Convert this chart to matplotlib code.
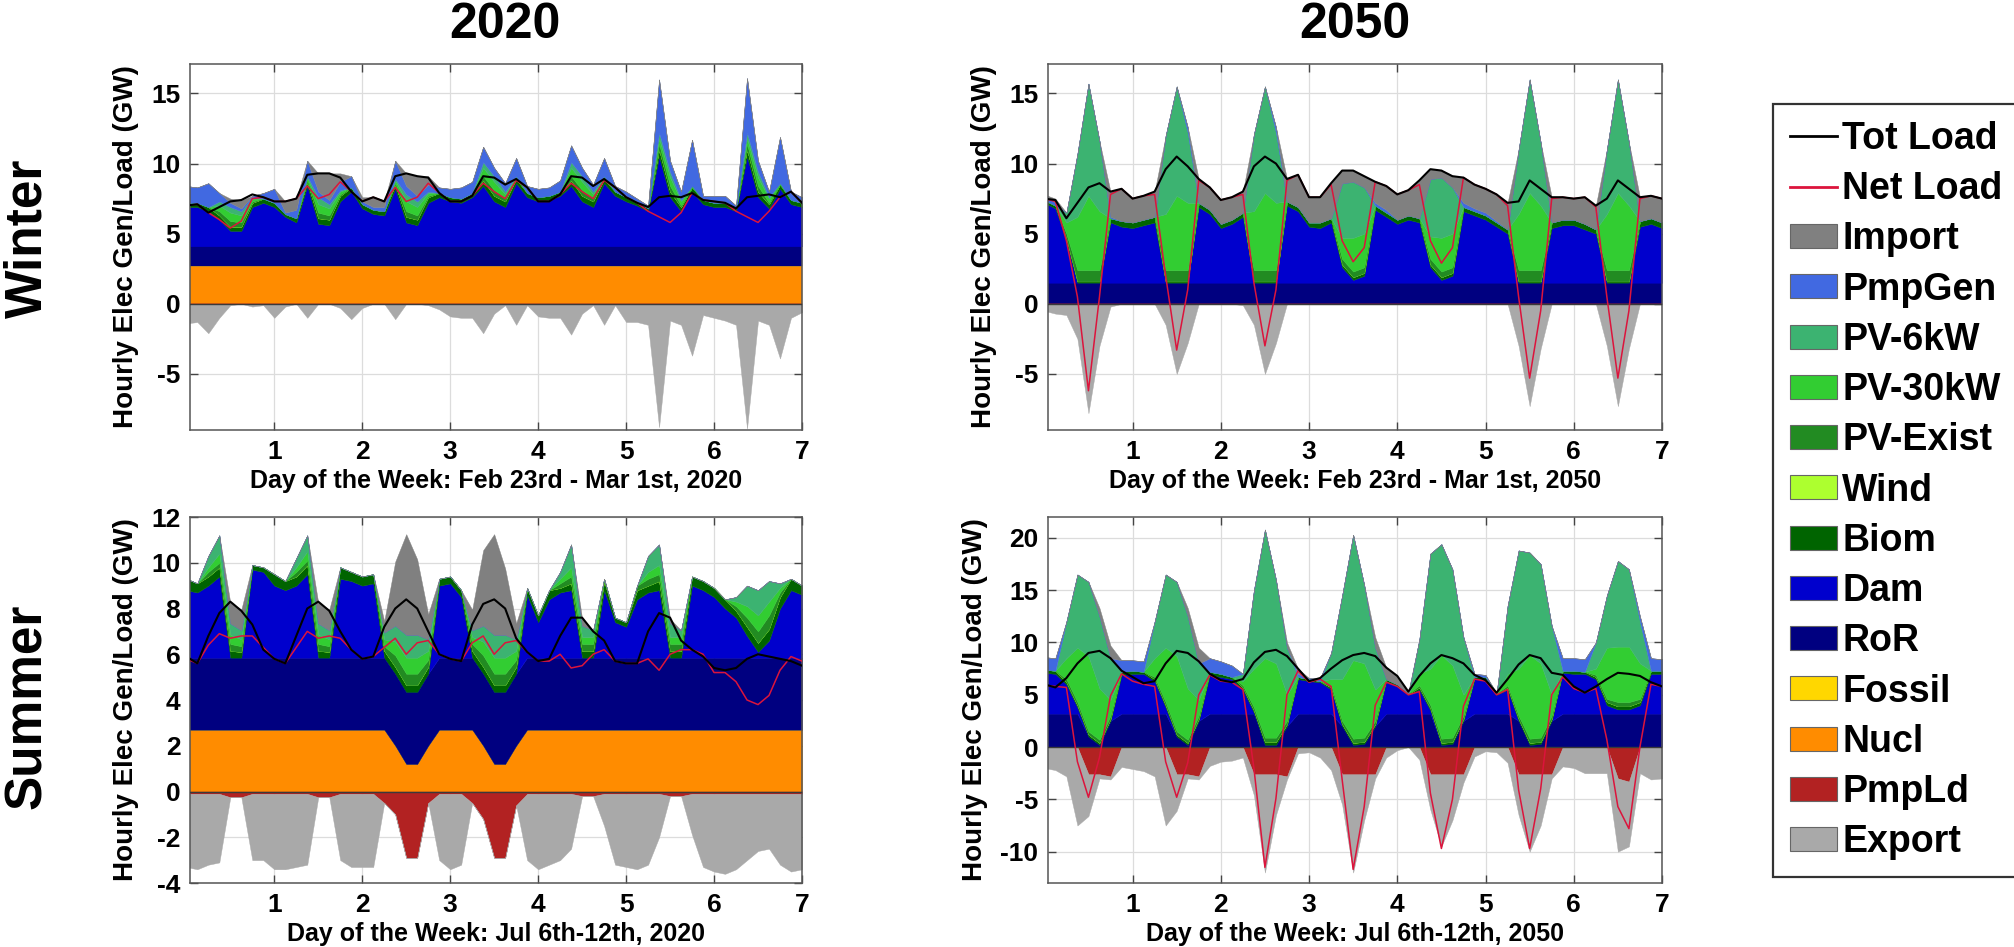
import numpy as np
import matplotlib
matplotlib.use("Agg")
import matplotlib.pyplot as plt
from matplotlib.patches import Patch
from matplotlib.lines import Line2D
from matplotlib import font_manager

names = {f.name for f in font_manager.fontManager.ttflist}
narrow = "Liberation Sans Narrow" if "Liberation Sans Narrow" in names else "Liberation Sans"
plt.rcParams["font.family"] = ["Liberation Sans", "DejaVu Sans"]
plt.rcParams["font.weight"] = "bold"
plt.rcParams["axes.unicode_minus"] = False

# 3-hourly samples over the week (day 0 .. day 7)
days = np.linspace(0, 7, 57)

# ---------------- Winter 2020 ----------------
w20_nucl = 2.7
w20_ror = 1.4
w20_dam = [2.8, 2.8, 2.5, 1.9, 1.1, 1.1, 2.8, 3.1,
           2.8, 2.1, 1.7, 4.3, 1.6, 1.5, 3.2, 3.9,
           2.7, 2.3, 2.2, 4.1, 1.7, 1.5, 3.1, 3.5,
           3.2, 3.1, 3.5, 4.3, 3.2, 2.8, 4.5, 3.5,
           3.2, 3.3, 3.6, 4.3, 3.2, 2.8, 4.5, 3.6,
           3.2, 2.9, 2.5, 6.4, 3.5, 2.5, 3.9, 3.0,
           2.8, 2.8, 2.5, 6.4, 3.5, 2.7, 4.1, 3.0,
           2.8]
w20_biom = [.3, .3, .3, .3, .3, .3, .3, .3,
            .3, .2, .3, .3, .4, .4, .4, .3,
            .3, .3, .3, .3, .4, .4, .4, .3,
            .3, .3, .3, .4, .4, .4, .3, .3,
            .3, .3, .3, .4, .4, .4, .3, .3,
            .3, .3, .2, .5, .4, .3, .3, .3,
            .3, .3, .2, .5, .4, .3, .3, .3,
            .3]
w20_pvex = [0, 0, 0, .3, .4, .3, .1, 0,
            0, 0, 0, .1, .4, .3, .1, 0,
            0, 0, 0, .1, .4, .3, .1, 0,
            0, 0, 0, .3, .4, .2, .1, 0,
            0, 0, 0, .3, .4, .2, .1, 0,
            0, 0, 0, .4, .4, .1, 0, 0,
            0, 0, 0, .4, .4, .1, 0, 0,
            0]
w20_pv30 = [0, 0, 0, .4, .6, .5, .2, 0,
            0, 0, 0, .2, .6, .5, .2, 0,
            0, 0, 0, .2, .7, .6, .2, 0,
            0, 0, 0, .6, .6, .3, .1, 0,
            0, 0, 0, .6, .6, .3, .1, 0,
            0, 0, 0, .4, .6, .3, .1, 0,
            0, 0, 0, .4, .6, .3, .1, 0,
            0]
w20_pv6 = [0, 0, 0, .3, .4, .3, .1, 0,
           0, 0, 0, .1, .5, .3, .1, 0,
           0, 0, 0, .1, .5, .4, .1, 0,
           0, 0, 0, .4, .4, .2, 0, 0,
           0, 0, 0, .4, .4, .2, 0, 0,
           0, 0, 0, .4, .4, .1, 0, 0,
           0, 0, 0, .4, .4, .1, 0, 0,
           0]
w20_pmpgen = [1.2, 1.1, 1.7, .6, .3, .2, .1, .4,
              1.0, .1, .6, 1.1, .4, .3, .6, .8,
              .2, .2, .3, 1.3, .6, .4, .5, .4,
              .6, .8, .8, 1.1, .6, .6, 1.3, .5,
              .6, .6, .8, 1.2, .6, .5, 1.3, .4,
              .4, .2, .2, 3.8, .8, .6, 3.3, .3,
              .5, .5, .2, 3.9, .8, .4, 3.3, .6,
              .4]
w20_import = [0, 0, 0, 0, .3, .6, 0, 0,
              0, .8, .8, 0, 1.3, 1.9, .6, 0,
              .3, .7, .4, 0, .9, 1.4, .6, 0,
              0, 0, 0, 0, 0, 0, 0, 0,
              0, 0, 0, 0, 0, 0, 0, 0,
              0, 0, 0, 0, 0, 0, 0, 0,
              0, 0, 0, 0, 0, 0, 0, 0,
              0]
w20_pmpld = 0.0
w20_export = [-1.4, -1.3, -2.1, -1.0, -0.1, 0, -0.2, -0.1,
              -1.0, -0.2, 0, -1.0, 0, 0, -0.3, -1.1,
              -0.3, 0, 0, -1.1, 0, 0, -0.1, -0.4,
              -0.9, -1.0, -1.0, -2.1, -0.7, -0.1, -1.5, -0.1,
              -0.9, -1.0, -1.0, -2.2, -0.7, -0.1, -1.5, -0.1,
              -1.3, -1.3, -1.5, -8.8, -1.2, -1.5, -3.7, -0.8,
              -1.0, -1.2, -1.5, -8.9, -1.2, -1.5, -3.9, -1.0,
              -0.6]
w20_load = [7.0, 7.1, 6.5, 6.9, 7.3, 7.4, 7.8, 7.6,
            7.3, 7.3, 7.5, 9.2, 9.3, 9.3, 9.0, 8.0,
            7.3, 7.6, 7.3, 9.1, 9.3, 9.1, 9.0, 7.9,
            7.3, 7.3, 7.7, 9.1, 9.0, 8.5, 8.9, 8.3,
            7.3, 7.3, 7.8, 9.1, 9.0, 8.4, 8.9, 8.3,
            7.6, 7.2, 6.9, 7.6, 7.7, 7.6, 7.9, 7.4,
            7.3, 7.2, 6.8, 7.6, 7.7, 7.8, 7.6, 8.0,
            7.2]
w20_net = [7.0, 7.1, 6.5, 6.0, 5.4, 5.9, 7.5, 7.6,
           7.3, 7.3, 7.5, 8.4, 7.5, 7.8, 8.7, 8.0,
           7.3, 7.6, 7.3, 8.3, 7.3, 7.6, 8.6, 7.9,
           7.3, 7.3, 7.7, 8.6, 8.0, 7.5, 8.8, 8.3,
           7.3, 7.3, 7.8, 8.6, 8.0, 7.5, 8.8, 8.3,
           7.6, 7.2, 6.6, 6.2, 5.8, 6.5, 7.9, 7.4,
           7.3, 7.2, 6.6, 6.2, 5.8, 6.6, 7.6, 8.0,
           7.2]

# ---------------- Winter 2050 ----------------
w50_nucl = 0.0
w50_ror = 1.5
w50_dam = [5.7, 5.3, 3.0, 0, 0, 0, 4.3, 4.0,
           3.9, 4.1, 4.3, 0, 0, 0, 5.4, 4.9,
           3.9, 4.2, 4.7, 0, 0, 0, 5.5, 5.1,
           4.0, 3.9, 4.3, 1.1, 0.2, 0.5, 5.2, 4.7,
           4.2, 4.5, 4.3, 1.1, 0.2, 0.5, 5.1, 4.8,
           4.5, 4.0, 3.5, 0, 0, 0, 3.9, 4.1,
           4.1, 3.8, 3.5, 0, 0, 0, 4.0, 4.2,
           3.9]
w50_biom = [.2, .2, .2, .1, .1, .1, .3, .4,
            .4, .4, .4, .1, .1, .1, .3, .3,
            .3, .3, .3, .1, .1, .1, .3, .3,
            .3, .4, .3, .2, .2, .2, .3, .3,
            .3, .3, .3, .2, .2, .2, .3, .3,
            .3, .3, .3, .1, .1, .1, .4, .4,
            .4, .4, .3, .1, .1, .1, .4, .4,
            .4]
w50_pvex = [0, 0, .3, .8, .8, .8, 0, 0,
            0, 0, 0, .8, .8, .8, 0, 0,
            0, 0, 0, .8, .8, .8, 0, 0,
            0, 0, 0, .4, .4, .4, 0, 0,
            0, 0, 0, .4, .4, .4, 0, 0,
            0, 0, 0, .8, .8, .8, 0, 0,
            0, 0, 0, .8, .8, .8, 0, 0,
            0]
w50_pv30 = [0, 0, .8, 3.8, 5.3, 4.2, 0, 0,
            0, 0, 0, 4.0, 5.3, 4.8, 0, 0,
            0, 0, 0, 4.2, 5.5, 4.8, 0, 0,
            0, 0, 0, 1.5, 2.4, 2.4, 0, 0,
            0, 0, 0, 1.6, 2.4, 2.4, 0, 0,
            0, 0, 0, 4.0, 5.5, 4.6, 0, 0,
            0, 0, 0, 4.0, 5.5, 4.6, 0, 0,
            0]
w50_pv6 = [0, 0, .7, 4.5, 8.0, 5.0, 0, 0,
           0, 0, 0, 5.6, 7.8, 5.0, 0, 0,
           0, 0, 0, 5.5, 7.6, 5.0, 0, 0,
           0, 0, 0, 3.9, 4.0, 3.3, 0, 0,
           0, 0, 0, 4.1, 4.3, 3.3, 0, 0,
           0, 0, 0, 4.6, 8.1, 4.5, 0, 0,
           0, 0, 0, 4.6, 8.1, 4.5, 0, 0,
           0]
w50_pmpgen = [.4, .2, 0, 0, 0, 0, .1, 0,
              0, 0, 0, 0, 0, .4, 0, 0,
              0, 0, 0, 0, 0, .4, 0, 0,
              0, 0, 0, 0, 0, 0, .2, .2,
              0, 0, 0, 0, 0, 0, .3, .2,
              .2, .1, 0, 0, 0, 0, 0, 0,
              0, 0, 0, 0, 0, 0, 0, 0,
              0]
w50_import = [0, .3, 0, 0, 0, 0, 1.8, 2.3,
              1.7, 1.7, 1.8, 0, 0, 0, 1.7, 1.6,
              1.7, 1.6, 1.5, 0, 0, 0, 1.6, 2.3,
              1.8, 1.8, 2.5, .9, .8, .8, 1.5, 1.7,
              1.8, 1.8, 2.7, .7, .5, .8, 1.8, 1.7,
              1.7, 1.9, 1.9, 0, 0, 0, 1.8, 1.6,
              1.5, 1.9, 1.7, 0, 0, 0, 1.7, 1.6,
              1.7]
w50_pmpld = 0.0
w50_export = [-0.5, -0.7, -0.8, -2.5, -7.8, -3.0, -0.2, 0,
              0, 0, 0, -1.5, -5.0, -2.8, 0, 0,
              0, 0, -0.1, -1.5, -5.0, -2.8, 0, 0,
              0, 0, 0, 0, 0, 0, 0, 0,
              0, 0, 0, 0, 0, 0, 0, 0,
              0, 0, 0, -3.0, -7.3, -3.2, 0, 0,
              0, 0, 0, -3.0, -7.3, -3.2, 0, 0,
              0]
w50_load = [7.5, 7.4, 6.1, 7.2, 8.3, 8.6, 8.0, 8.2,
            7.5, 7.7, 8.0, 9.6, 10.5, 9.8, 8.9, 8.3,
            7.4, 7.6, 8.0, 9.8, 10.5, 10.0, 8.9, 9.2,
            7.6, 7.6, 8.6, 9.5, 9.5, 9.1, 8.7, 8.4,
            7.8, 8.1, 8.8, 9.6, 9.5, 9.1, 9.0, 8.5,
            8.2, 7.8, 7.2, 7.3, 8.8, 8.2, 7.6, 7.6,
            7.5, 7.6, 7.0, 7.5, 8.8, 8.2, 7.6, 7.7,
            7.5]
w50_net = [7.5, 7.3, 4.5, 0.5, -6.2, 0.5, 7.8, 8.2,
           7.5, 7.7, 7.8, 2.0, -3.3, 1.0, 8.8, 8.3,
           7.4, 7.6, 7.8, 1.5, -3.0, 1.0, 8.8, 9.2,
           7.6, 7.6, 8.5, 4.5, 3.0, 4.0, 8.7, 8.4,
           7.8, 8.1, 8.5, 4.5, 2.9, 4.0, 9.0, 8.5,
           8.2, 7.8, 7.0, 0.5, -5.3, -0.5, 7.5, 7.6,
           7.5, 7.6, 6.9, 0.5, -5.3, -0.5, 7.5, 7.7,
           7.5]

# ---------------- Summer 2020 ----------------
s20_nucl = [2.7, 2.7, 2.7, 2.7, 2.7, 2.7, 2.7, 2.7,
            2.7, 2.7, 2.7, 2.7, 2.7, 2.7, 2.7, 2.7,
            2.7, 2.7, 2.7, 2.0, 1.2, 1.2, 2.0, 2.7,
            2.7, 2.7, 2.7, 2.0, 1.2, 1.2, 2.0, 2.7,
            2.7, 2.7, 2.7, 2.7, 2.7, 2.7, 2.7, 2.7,
            2.7, 2.7, 2.7, 2.7, 2.7, 2.7, 2.7, 2.7,
            2.7, 2.7, 2.7, 2.7, 2.7, 2.7, 2.7, 2.7,
            2.7]
s20_ror = 3.15
s20_dam = [2.95, 2.85, 3.15, 3.55, 0, 0, 3.85, 3.75,
           3.15, 2.95, 3.15, 3.65, 0, 0, 3.45, 3.35,
           3.15, 3.25, 0, 0, 0, 0, 0, 3.15,
           3.25, 2.65, 0, 0, 0, 0, 0, 2.75,
           1.55, 2.55, 2.85, 2.95, 0, 0, 2.95, 1.55,
           1.35, 2.55, 2.85, 2.95, 0, 0, 3.15, 2.95,
           2.65, 2.15, 1.75, 0.95, 0.25, 0.75, 2.15, 2.95,
           2.75]
s20_biom = [.5, .4, .4, .4, .3, .25, .2, .2,
            .5, .4, .4, .4, .3, .25, .5, .4,
            .4, .4, .3, .3, .3, .3, .3, .3,
            .3, .3, .3, .3, .3, .3, .3, .3,
            .3, .4, .2, .3, .3, .3, .4, .2,
            .2, .4, .3, .4, .3, .3, .4, .4,
            .4, .4, .3, .4, .4, .5, .5, .5,
            .4]
s20_pvex = [0, 0, .2, .2, .3, .25, 0, 0,
            0, 0, .2, .2, .3, .25, 0, 0,
            0, 0, .2, .5, .5, .5, .3, 0,
            0, 0, .3, .5, .5, .5, .3, 0,
            0, 0, .2, .3, .3, .3, .1, 0,
            0, .2, .3, .3, .3, .3, 0, 0,
            0, 0, .2, .4, .5, .6, .2, 0,
            0]
s20_pv30 = [0, 0, .2, .4, .4, .3, 0, 0,
            0, 0, .2, .4, .4, .3, 0, 0,
            0, 0, .3, .6, .7, .7, .4, 0,
            0, 0, .3, .6, .7, .7, .4, 0,
            0, 0, .2, .4, .3, .3, 0, 0,
            0, 0, .3, .4, .3, .3, 0, 0,
            0, 0, .2, .5, .7, .6, .2, 0,
            0]
s20_pv6 = [0, 0, .5, .8, .5, .4, 0, 0,
           0, 0, .4, .7, .5, .4, 0, 0,
           0, 0, .3, .7, 1.0, 1.0, .5, 0,
           0, 0, .3, .7, 1.0, 1.0, .5, 0,
           0, 0, .3, 1.0, .5, .3, 0, 0,
           0, 0, .7, .9, .6, .3, 0, 0,
           0, 0, .2, .9, 1.1, .9, .2, 0,
           0]
s20_pmpgen = 0.0
s20_import = [0, 0, 0, 0, .9, .9, 0, 0,
              0, 0, 0, 0, .9, .9, 0, 0,
              0, 0, .5, 2.8, 4.4, 3.3, 1.1, 0,
              0, 0, .9, 3.3, 4.4, 2.9, .7, 0,
              0, 0, 0, 0, .3, 0, 0, 0,
              0, 0, 0, 0, .2, 0, 0, 0,
              0, 0, 0, 0, 0, 0, 0, 0,
              0]
s20_pmpld = [-.1, -.1, -.1, -.1, -.25, -.25, -.1, -.1,
             -.1, -.1, -.1, -.1, -.25, -.25, -.1, -.1,
             -.1, -.1, -.5, -1.0, -2.9, -2.9, -.5, -.1,
             -.1, -.1, -.5, -1.2, -2.9, -2.9, -.6, -.1,
             -.1, -.1, -.1, -.1, -.2, -.2, -.1, -.1,
             -.1, -.1, -.1, -.1, -.2, -.2, -.1, -.1,
             -.1, -.1, -.1, -.1, -.1, -.1, -.1, -.1,
             -.1]
s20_export = [-3.2, -3.3, -3.1, -3.0, 0, 0, -2.9, -2.9,
              -3.3, -3.3, -3.2, -3.1, 0, 0, -2.9, -3.2,
              -3.2, -3.2, 0, 0, 0, 0, 0, -2.9,
              -3.3, -3.1, 0, 0, 0, 0, 0, -2.9,
              -3.3, -3.1, -2.9, -2.4, 0, 0, -1.4, -3.1,
              -3.2, -3.3, -3.1, -1.9, 0, 0, -1.8, -3.2,
              -3.4, -3.5, -3.3, -2.9, -2.5, -2.4, -3.1, -3.4,
              -3.3]
s20_load = [5.9, 5.6, 6.8, 7.8, 8.3, 7.9, 7.3, 6.2,
            5.8, 5.6, 6.8, 8.0, 8.3, 7.9, 7.0, 6.2,
            5.8, 5.9, 7.2, 8.0, 8.4, 8.0, 7.0, 6.0,
            5.8, 5.7, 7.3, 8.2, 8.4, 8.0, 6.7, 6.1,
            5.7, 5.8, 6.8, 7.6, 7.6, 7.0, 6.6, 5.7,
            5.6, 5.6, 7.0, 7.8, 7.6, 6.6, 6.2, 5.9,
            5.4, 5.3, 5.4, 5.8, 6.0, 5.9, 5.8, 5.7,
            5.5]
s20_net = [5.8, 5.6, 6.4, 6.9, 6.7, 6.8, 6.8, 6.3,
           5.8, 5.6, 6.3, 7.0, 6.7, 6.8, 6.7, 6.2,
           5.8, 5.9, 6.3, 6.7, 6.0, 6.5, 6.6, 6.0,
           5.8, 5.7, 6.5, 6.8, 6.0, 6.5, 6.6, 6.1,
           5.7, 5.7, 6.0, 5.4, 5.5, 6.0, 6.2, 5.7,
           5.6, 5.6, 5.8, 5.3, 6.0, 6.2, 6.2, 6.0,
           5.2, 5.2, 4.8, 4.0, 3.8, 4.2, 5.3, 5.9,
           5.7]

# ---------------- Summer 2050 ----------------
s50_nucl = 0.0
s50_ror = [3.2, 3.2, 3.2, 3.2, 1.0, 0.2, 2.5, 3.2,
           3.2, 3.2, 3.2, 3.2, 1.0, 0.2, 2.5, 3.2,
           3.2, 3.2, 3.2, 3.2, 0.2, 0.2, 2.0, 3.2,
           3.2, 3.2, 3.2, 2.0, 0.2, 0.3, 2.0, 3.2,
           3.2, 3.2, 3.2, 3.2, 0.2, 0.3, 2.5, 3.2,
           3.2, 3.2, 3.2, 2.5, 0.2, 0.3, 2.5, 3.2,
           3.2, 3.2, 3.2, 3.2, 3.2, 3.2, 3.2, 3.2,
           3.2]
s50_dam = [3.9, 3.8, 2.8, 0.6, 0, 0, 0, 3.7,
           3.8, 3.8, 3.1, 0.6, 0, 0, 0, 3.7,
           3.5, 3.3, 2.3, 0.1, 0, 0, 0, 3.3,
           3.1, 3.0, 2.3, 0, 0, 0, 0, 3.1,
           2.6, 1.8, 2.3, 0.3, 0, 0, 0, 3.3,
           3.3, 1.8, 2.3, 0, 0, 0, 0, 3.9,
           3.8, 3.8, 3.3, 0.8, 0.4, 0.4, 0.8, 3.8,
           3.8]
s50_biom = [.3, .3, .2, .2, .2, .2, .2, .3,
            .3, .2, .2, .2, .2, .2, .2, .3,
            .3, .2, .2, .2, .3, .3, .2, .2,
            .2, .1, .2, .2, .2, .2, .2, .2,
            .2, .1, .2, .2, .2, .2, .2, .2,
            .2, .1, .2, .2, .2, .2, .2, .2,
            .3, .2, .2, .3, .3, .3, .3, .3,
            .3]
s50_pvex = [0, 0, .3, .3, .3, .3, .3, 0,
            0, 0, .2, .3, .3, .3, .3, 0,
            0, 0, .2, .3, .4, .4, .3, 0,
            0, 0, .2, .3, .4, .4, .3, 0,
            0, 0, .2, .3, .4, .4, .3, 0,
            0, 0, .2, .3, .4, .4, .3, 0,
            0, 0, .2, .3, .4, .4, .3, 0,
            0]
s50_pv30 = [0, 0, 2.0, 5.2, 7.2, 4.9, 1.5, 0,
            0, 0, 1.8, 5.2, 7.2, 4.9, 1.5, 0,
            0, 0, .4, 3.7, 7.6, 7.1, 2.5, 0,
            0, 0, .6, 4.0, 7.5, 7.1, 3.0, 0,
            0, 0, 1.1, 3.5, 8.0, 6.9, 2.0, 0,
            0, 0, 1.1, 4.5, 8.0, 7.1, 2.0, 0,
            0, 0, .6, 4.9, 5.3, 5.3, 3.4, 0,
            0]
s50_pv6 = [0, 0, 3.5, 7.0, 7.1, 6.9, 4.0, 0,
           0, 0, 3.5, 7.0, 7.1, 6.9, 3.5, 0,
           0, 0, .7, 7.5, 12.3, 8.0, 4.5, 0,
           0, 0, 2.5, 8.0, 12.0, 7.5, 4.0, 0,
           0, 0, 3.3, 11.0, 10.6, 9.2, 5.5, 0,
           0, 0, 6.5, 11.3, 9.8, 9.5, 6.6, 0,
           0, 0, 2.5, 5.0, 8.2, 7.4, 4.0, 0,
           0]
s50_pmpgen = [1.2, 1.2, 0, 0, 0, 0, 0, 1.1,
              1.0, 1.0, 0, 0, 0, 0, 0, 1.3,
              1.2, 1.1, 0, 0, 0, 0, 0, .3,
              .1, .3, 0, 0, 0, 0, 0, 0,
              0, 0, 0, 0, 0, 0, 0, .3,
              .2, 0, 0, 0, 0, 0, 0, 1.2,
              1.2, 1.2, 0, 0, 0, 0, .5, 1.2,
              1.1]
s50_import = [0, 0, 0, 0, 0, .8, 1.2, 0,
              0, 0, 0, 0, 0, .8, 1.5, 0,
              0, 0, 0, 0, 0, 0, .5, .5,
              0, 0, 0, 0, 0, 0, 1.0, 1.1,
              .8, .2, 0, 0, 0, 0, 0, 0,
              0, .1, 0, 0, 0, 0, 0, 0,
              0, 0, 0, 0, 0, 0, 0, 0,
              0]
s50_pmpld = [0, 0, 0, 0, -2.6, -2.6, -2.8, 0,
             0, 0, 0, 0, -2.6, -2.6, -2.8, 0,
             0, 0, 0, -2.6, -2.6, -2.6, -2.8, 0,
             0, 0, 0, -2.6, -2.6, -2.6, -2.6, 0,
             0, 0, 0, -2.6, -2.6, -2.6, -2.6, 0,
             0, 0, 0, -2.6, -2.6, -2.6, -2.6, 0,
             0, 0, 0, 0, -3.0, -3.3, 0, 0,
             0]
s50_export = [-2.0, -2.2, -2.8, -7.5, -4.0, -0.4, -0.3, -1.9,
              -2.1, -2.3, -2.8, -7.5, -3.5, -0.4, -0.3, -1.8,
              -1.4, -1.3, -1.0, -2.0, -9.4, -3.9, -0.3, -0.6,
              -0.5, -1.0, -2.2, -2.9, -9.4, -4.4, -0.4, -1.0,
              -0.3, 0, -1.2, -3.4, -6.9, -4.4, -0.8, -0.9,
              -0.4, -0.5, -1.5, -3.9, -7.4, -4.9, -0.4, -1.85,
              -2.0, -2.5, -2.5, -2.5, -7.0, -6.2, -2.5, -3.1,
              -3.0]
s50_load = [6.0, 5.7, 6.6, 8.0, 9.0, 9.2, 8.5, 7.3,
            6.7, 6.1, 6.3, 8.0, 9.2, 9.0, 8.2, 7.0,
            6.4, 6.2, 6.5, 8.1, 9.1, 9.3, 8.7, 7.5,
            6.3, 6.6, 7.5, 8.3, 8.8, 9.0, 8.7, 7.6,
            6.8, 5.3, 6.8, 8.0, 8.8, 8.5, 8.0, 6.9,
            6.4, 5.2, 6.5, 7.9, 8.8, 8.5, 7.1, 6.9,
            5.8, 5.2, 5.8, 6.5, 7.1, 7.0, 6.8, 6.2,
            5.8]
s50_net = [5.9, 5.8, 5.7, -1.4, -4.8, -1.0, 4.9, 7.0,
           6.3, 6.0, 5.8, -1.4, -4.8, -1.5, 5.0, 6.9,
           6.3, 6.2, 5.5, -2.0, -11.5, -4.9, 5.0, 7.3,
           6.2, 6.5, 5.8, -3.1, -11.7, -5.7, 4.0, 6.2,
           5.8, 5.0, 5.3, -4.4, -9.7, -5.0, 3.9, 6.5,
           6.3, 5.0, 5.5, -4.1, -9.7, -4.0, 5.0, 6.7,
           5.6, 5.2, 5.6, 0.7, -5.7, -7.8, 0.0, 6.0,
           5.8]

# sources that are zero in all four weeks but listed in the legend
fossil = 0.0
wind = 0.0

colors = {"Import": "#808080", "PmpGen": "#4169E1", "PV-6kW": "#3CB371",
          "PV-30kW": "#32CD32", "PV-Exist": "#228B22", "Wind": "#ADFF2F",
          "Biom": "#006400", "Dam": "#0000CD", "RoR": "#000080",
          "Fossil": "#FFD700", "Nucl": "#FF8C00", "PmpLd": "#B22222",
          "Export": "#A9A9A9"}
stack_order = ["Nucl", "Fossil", "RoR", "Dam", "Biom", "Wind", "PV-Exist",
               "PV-30kW", "PV-6kW", "PmpGen", "Import"]


def arr(v):
    return np.broadcast_to(np.asarray(v, dtype=float), days.shape)


def panel(ax, gen, neg, load, net, ylim, yticks, xlabel):
    ax.stackplot(days, *[arr(v) for v in gen],
                 colors=[colors[k] for k in stack_order],
                 edgecolor="face", linewidth=0.3, zorder=2)
    ax.stackplot(days, *[arr(v) for v in neg],
                 colors=[colors["PmpLd"], colors["Export"]],
                 edgecolor="face", linewidth=0.3, zorder=2)
    ax.axhline(0, color="#3a3a3a", lw=1.0, zorder=3)
    ax.plot(days, net, color="#DC143C", lw=1.1, zorder=4)
    ax.plot(days, load, color="black", lw=1.5, zorder=5)
    ax.set_xlim(1 / 24, 7)
    ax.set_ylim(*ylim)
    ax.set_xticks(range(1, 8))
    ax.set_yticks(yticks)
    ax.grid(True, color="#dcdcdc", lw=0.9)
    ax.set_axisbelow(True)
    ax.tick_params(direction="in", length=6, top=True, right=True,
                   labelsize=19, width=1, color="#444444", pad=7)
    for s in ax.spines.values():
        s.set_color("#555555")
        s.set_linewidth(1.1)
    ax.set_xlabel(xlabel, fontsize=18, fontweight="bold", labelpad=4)
    ax.set_ylabel("Hourly Elec Gen/Load (GW)", fontsize=20,
                  fontweight="bold", labelpad=9)


fig = plt.figure(figsize=(20.14, 9.47), dpi=100)
W, H = 2014, 947


def add_ax(left, top, right, bottom):
    return fig.add_axes([left / W, 1 - bottom / H, (right - left) / W, (bottom - top) / H])


ax1 = add_ax(190, 64, 802, 430)
ax2 = add_ax(1048, 64, 1662, 430)
ax3 = add_ax(190, 517, 802, 883)
ax4 = add_ax(1048, 517, 1662, 883)

panel(ax1,
      [w20_nucl, fossil, w20_ror, w20_dam, w20_biom, wind, w20_pvex,
       w20_pv30, w20_pv6, w20_pmpgen, w20_import],
      [w20_pmpld, w20_export], w20_load, w20_net,
      (-9, 17.1), [-5, 0, 5, 10, 15],
      "Day of the Week: Feb 23rd - Mar 1st, 2020")
panel(ax2,
      [w50_nucl, fossil, w50_ror, w50_dam, w50_biom, wind, w50_pvex,
       w50_pv30, w50_pv6, w50_pmpgen, w50_import],
      [w50_pmpld, w50_export], w50_load, w50_net,
      (-9, 17.1), [-5, 0, 5, 10, 15],
      "Day of the Week: Feb 23rd - Mar 1st, 2050")
panel(ax3,
      [s20_nucl, fossil, s20_ror, s20_dam, s20_biom, wind, s20_pvex,
       s20_pv30, s20_pv6, s20_pmpgen, s20_import],
      [s20_pmpld, s20_export], s20_load, s20_net,
      (-4, 12), [-4, -2, 0, 2, 4, 6, 8, 10, 12],
      "Day of the Week: Jul 6th-12th, 2020")
panel(ax4,
      [s50_nucl, fossil, s50_ror, s50_dam, s50_biom, wind, s50_pvex,
       s50_pv30, s50_pv6, s50_pmpgen, s50_import],
      [s50_pmpld, s50_export], s50_load, s50_net,
      (-13, 22), [-10, -5, 0, 5, 10, 15, 20],
      "Day of the Week: Jul 6th-12th, 2050")

# column and row headings
fig.text(505 / W, 1 - 25 / H, "2020", ha="center", va="center",
         fontsize=36, fontweight="bold", family=narrow)
fig.text(1355 / W, 1 - 25 / H, "2050", ha="center", va="center",
         fontsize=36, fontweight="bold", family=narrow)
fig.text(28 / W, 1 - 238 / H, "Winter", ha="center", va="center",
         rotation=90, fontsize=37, fontweight="bold")
fig.text(28 / W, 1 - 706 / H, "Summer", ha="center", va="center",
         rotation=90, fontsize=37, fontweight="bold")

# legend
handles = [Line2D([], [], color="black", lw=2),
           Line2D([], [], color="#DC143C", lw=2)]
labels = ["Tot Load", "Net Load"]
for name in ["Import", "PmpGen", "PV-6kW", "PV-30kW", "PV-Exist", "Wind",
             "Biom", "Dam", "RoR", "Fossil", "Nucl", "PmpLd", "Export"]:
    handles.append(Patch(facecolor=colors[name], edgecolor="#666666", lw=0.8))
    labels.append(name)
leg = fig.legend(handles, labels, loc="upper left",
                 bbox_to_anchor=(1773 / W, 1 - 104 / H), fontsize=27,
                 frameon=True, fancybox=False, edgecolor="black",
                 handlelength=1.25, handleheight=0.6, handletextpad=0.15,
                 labelspacing=0.38, borderpad=0.45, borderaxespad=0)
leg.get_frame().set_linewidth(1.6)

fig.savefig("out.png", dpi=100)
